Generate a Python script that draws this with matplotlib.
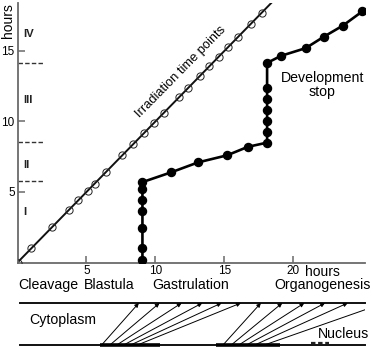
import matplotlib
matplotlib.use("Agg")
import matplotlib.pyplot as plt

plt.rcParams['font.family'] = ['Liberation Sans', 'DejaVu Sans']

# Irradiation time points (hours), lying on the line y = x
irradiation_times = [0.0, 1.0, 2.5, 3.7, 4.4, 5.1, 5.6, 6.4, 7.6, 8.4, 9.2, 9.9,
                     10.6, 11.7, 12.4, 13.2, 13.9, 14.6, 15.3, 16.0, 16.9, 17.7]

# Development stop (x, hours) versus irradiation time (y, hours)
stop_x = [9.06, 9.06, 9.06, 9.06, 9.06, 9.06, 9.06,
          11.16, 13.1, 15.2, 16.7, 18.1,
          18.1, 18.1, 18.1, 18.1, 18.1, 18.1,
          19.1, 20.9, 22.2, 23.6, 25.0]
stop_y = [0.18, 1.0, 2.45, 3.65, 4.43, 5.2, 5.7,
          6.4, 7.1, 7.6, 8.2, 8.5,
          9.25, 10.0, 10.8, 11.6, 12.4, 14.15,
          14.65, 15.2, 16.0, 16.8, 17.8]

# Period boundaries on the time axis
period_bounds = [5.75, 8.55, 14.15]
period_names = ['I', 'II', 'III', 'IV']
period_label_y = [3.6, 6.9, 11.5, 16.2]

x_ticks = [5, 10, 15, 20]
y_ticks = [5, 10, 15]

stages = ['Cleavage', 'Blastula', 'Gastrulation', 'Organogenesis']
stage_x = [0.05, 4.8, 9.8, 18.65]

# Nucleus -> cytoplasm arrows (start on nucleus line, end on cytoplasm line)
arrow_start = [6.1, 6.7, 7.2, 7.7, 8.2, 8.7,
               14.9, 15.5, 16.05, 16.6, 17.2]
arrow_end = [8.8, 10.3, 11.9, 13.4, 14.8, 16.2,
             17.65, 19.2, 20.8, 22.3, 23.95]
open_line_start = 17.9
open_line_end = 26.6
nucleus_active = [(5.95, 10.3), (14.4, 19.0)]
nucleus_dashed = (21.3, 22.6)

W, H = 373, 347
fig = plt.figure(figsize=(W / 100, H / 100), dpi=100)

x0, x1 = 17.5, 365
y0, y1 = 262.5, 3
ax = fig.add_axes([x0 / W, (H - y0) / H, (x1 - x0) / W, (y0 - y1) / H])
ax.set_xlim(0, 25.2)
ax.set_ylim(0, 18.4)

spine_col = '#6a6a6a'
for s in ['top', 'right']:
    ax.spines[s].set_visible(False)
for s in ['left', 'bottom']:
    ax.spines[s].set_color(spine_col)
    ax.spines[s].set_linewidth(1.3)
ax.tick_params(direction='in', length=5, width=1.1, color=spine_col,
               labelsize=8.5, pad=2)
ax.set_xticks(x_ticks)
ax.set_yticks(y_ticks)

# irradiation line with open markers
ax.axline((0, 0), slope=1, color='#111111', lw=1.4, zorder=2)
ax.plot(irradiation_times, irradiation_times, linestyle='none', marker='o',
        ms=5.2, mfc='none', mec='#222222', mew=0.7, zorder=3)

# development stop curve
ax.plot([stop_x[0]] + stop_x, [0] + stop_y, color='black', lw=1.9, zorder=4)
ax.plot(stop_x, stop_y, linestyle='none', marker='o', ms=5.8,
        color='black', zorder=5)

# period boundaries and names
for b in period_bounds:
    ax.plot([0, 1.85], [b, b], color='#333333', lw=1.0,
            linestyle=(0, (3.2, 1.6)), clip_on=False)
for name, yy in zip(period_names, period_label_y):
    ax.text(0.45, yy, name, fontsize=8.2, fontweight='bold',
            ha='left', va='center', color='#222222')

ax.text(11.85, 13.5, 'Irradiation time points', rotation=45.5,
        rotation_mode='anchor', ha='center', va='center', fontsize=9.3)
ax.text(22.1, 13.1, 'Development', ha='center', va='center', fontsize=10.2)
ax.text(22.1, 12.1, 'stop', ha='center', va='center', fontsize=10.2)

fig.text(8 / W, 1 - 21 / H, 'hours', rotation=90, ha='center', va='center',
         fontsize=10)
ax.text(22.1, -0.65, 'hours', ha='center', va='center', fontsize=10)

for name, sx in zip(stages, stage_x):
    ax.text(sx, -1.6, name, ha='left', va='center', fontsize=10.2)

# lower panel: cytoplasm and nucleus lines
bx = fig.add_axes([x0 / W, (H - 345) / H, (x1 - x0) / W, (345 - 303) / H])
bx.set_xlim(0, 25.2)
bx.set_ylim(0, 1)
bx.axis('off')
bx.plot([0.18, 25.2], [1, 1], color='#111111', lw=1.4, clip_on=False)
bx.plot([0.18, 25.2], [0, 0], color='#111111', lw=1.4, clip_on=False)
for a, b in nucleus_active:
    bx.plot([a, b], [0, 0], color='black', lw=2.6, solid_capstyle='butt',
            clip_on=False)
bx.plot(list(nucleus_dashed), [0.04, 0.04], color='#222222', lw=1.6,
        linestyle=(0, (2, 1.2)), clip_on=False)

for s, e in zip(arrow_start, arrow_end):
    bx.annotate('', xy=(e, 1), xytext=(s, 0),
                arrowprops=dict(arrowstyle='-|>', color='black', lw=0.7,
                                mutation_scale=6, shrinkA=0, shrinkB=0))
bx.plot([open_line_start, open_line_end], [0, 1], color='black', lw=0.7)

bx.text(0.85, 0.6, 'Cytoplasm', ha='left', va='center', fontsize=10.2)
bx.text(25.5, 0.25, 'Nucleus', ha='right', va='center', fontsize=10.2,
        clip_on=False)

fig.savefig('out.png', dpi=100)
